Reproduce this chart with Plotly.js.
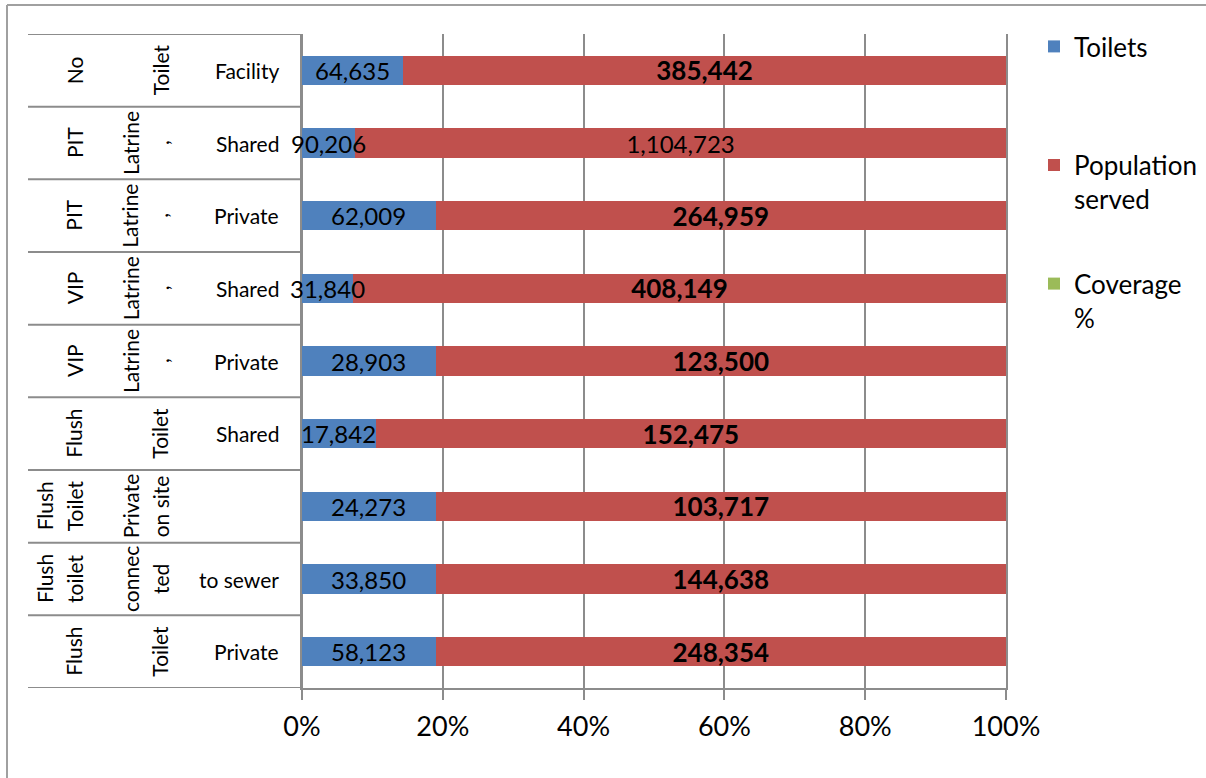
<!DOCTYPE html>
<html>
<head>
<meta charset="utf-8">
<script src="https://cdn.plot.ly/plotly-3.0.1.min.js"></script>
<style>
  html, body { margin: 0; padding: 0; background: #ffffff; }
  #chart { width: 1206px; height: 778px; }
</style>
</head>
<body>
<div id="chart"></div>
<script>
// Sanitation facilities: toilets vs. population served (100% stacked)
const categories = [
  "Flush Toilet Private",
  "Flush toilet connected to sewer",
  "Flush Toilet Private on site",
  "Flush Toilet Shared",
  "VIP Latrine, Private",
  "VIP Latrine, Shared",
  "PIT Latrine, Private",
  "PIT Latrine, Shared",
  "No Toilet Facility"
];

// Wrapped category label pieces, five label columns per row
const labelPieces = [
  ["", "Flush", "", "Toilet", "Private"],
  ["Flush", "toilet", "connec", "ted", "to sewer"],
  ["Flush", "Toilet", "Private", "on site", ""],
  ["", "Flush", "", "Toilet", "Shared"],
  ["", "VIP", "Latrine", ",", "Private"],
  ["", "VIP", "Latrine", ",", "Shared"],
  ["", "PIT", "Latrine", ",", "Private"],
  ["", "PIT", "Latrine", ",", "Shared"],
  ["", "No", "", "Toilet", "Facility"]
];

const toilets = [58123, 33850, 24273, 17842, 28903, 31840, 62009, 90206, 64635];
const populationServed = [248354, 144638, 103717, 152475, 123500, 408149, 264959, 1104723, 385442];
const coverage = [0, 0, 0, 0, 0, 0, 0, 0, 0];

const seriesNames = ["Toilets", "Population<br>served", "Coverage<br>%"];
const xTicks = [0, 20, 40, 60, 80, 100];

// ---- layout geometry (pixels) ----
const W = 1206, H = 778;
const plotL = 302, plotR = 1006, plotT = 34, plotB = 688;
const plotW = plotR - plotL, plotH = plotB - plotT;
const px2x = p => (p - plotL) / plotW;
const py2y = p => (plotB - p) / plotH;

const FONT = 'Lato, "Open Sans", sans-serif';
const GRID = '#8c8c8c';

const fmt = v => v.toLocaleString('en-US');
const bold = s => '<span style="font-weight:bold;font-size:26px">' + s + '</span>';

const popText = populationServed.map((v, i) =>
  categories[i] === "PIT Latrine, Shared" ? fmt(v) : bold(fmt(v)));

// centre of each Toilets segment on the percent scale
const totals = toilets.map((t, i) => t + populationServed[i] + coverage[i]);
const toiletsMid = toilets.map((t, i) => 50 * t / totals[i]);

const barCommon = {
  type: 'bar',
  orientation: 'h',
  y: categories,
  hoverinfo: 'none',
  textfont: { family: FONT, size: 24, color: '#000000' }
};

const traces = [
  Object.assign({}, barCommon, {
    name: seriesNames[0] + '<br>\u00a0', x: toilets,
    marker: { color: '#4F81BD' }, legendgroup: 'a'
  }),
  Object.assign({}, barCommon, {
    name: seriesNames[1], x: populationServed, text: popText,
    textposition: 'inside', insidetextanchor: 'middle', textangle: 0,
    constraintext: 'none',
    marker: { color: '#C0504D' }, legendgroup: 'b'
  }),
  Object.assign({}, barCommon, {
    name: seriesNames[2], x: coverage,
    marker: { color: '#9BBB59' }, legendgroup: 'c'
  })
];

const annotations = [];

// Toilets value labels, placed above the bars so wide labels stay readable
toilets.forEach((t, i) => {
  annotations.push({
    xref: 'x', yref: 'y', x: toiletsMid[i], y: categories[i],
    text: fmt(t), showarrow: false, xanchor: 'center', yanchor: 'middle',
    font: { family: FONT, size: 24, color: '#000000' }
  });
});

// Category label columns: [x pixel, rotated]
const columns = [[44, true], [74, true], [130, true], [160, true], [281, false]];

labelPieces.forEach((pieces, i) => {
  pieces.forEach((txt, c) => {
    if (!txt) return;
    const [cx, rot] = columns[c];
    annotations.push({
      xref: 'paper', yref: 'y',
      x: px2x(cx), y: categories[i],
      text: txt, showarrow: false,
      textangle: rot ? -90 : 0,
      xanchor: rot ? 'center' : 'right', yanchor: 'middle',
      font: { family: FONT, size: 21, color: '#000000' }
    });
  });
});

const shapes = [];
// row dividers across the label table
for (let k = 0; k <= categories.length; k++) {
  shapes.push({
    type: 'line', xref: 'paper', yref: 'y',
    x0: px2x(28), x1: 0, y0: k - 0.5, y1: k - 0.5,
    line: { color: GRID, width: 2 }
  });
}
// outer chart frame (left and top edges)
shapes.push({
  type: 'line', xref: 'paper', yref: 'paper',
  x0: px2x(7), x1: px2x(7), y0: py2y(5), y1: py2y(H + 5),
  line: { color: '#a0a0a0', width: 2 }
});
shapes.push({
  type: 'line', xref: 'paper', yref: 'paper',
  x0: px2x(7), x1: px2x(W + 5), y0: py2y(5), y1: py2y(5),
  line: { color: '#a0a0a0', width: 2 }
});

const layout = {
  width: W, height: H,
  margin: { l: plotL, r: W - plotR, t: plotT, b: H - plotB, pad: 0, autoexpand: false },
  paper_bgcolor: '#ffffff', plot_bgcolor: '#ffffff',
  barmode: 'stack', barnorm: 'percent', bargap: 0.6,
  showlegend: true,
  legend: {
    xref: 'container', yref: 'container',
    x: 1034 / W, y: 1 - 23 / H, xanchor: 'left', yanchor: 'top',
    font: { family: FONT, size: 26, color: '#000000' },
    valign: 'top', tracegroupgap: 48, traceorder: 'grouped',
    bgcolor: 'rgba(0,0,0,0)'
  },
  xaxis: {
    range: [0, 100], tickvals: xTicks, ticktext: xTicks.map(v => v + '%'),
    showgrid: true, gridcolor: GRID, gridwidth: 2,
    zeroline: true, zerolinecolor: GRID, zerolinewidth: 2,
    showline: true, linecolor: GRID, linewidth: 2,
    ticks: 'outside', ticklen: 10, tickwidth: 2, tickcolor: GRID,
    ticklabelstandoff: 4,
    tickfont: { family: FONT, size: 27, color: '#000000' },
    fixedrange: true
  },
  yaxis: {
    type: 'category', range: [-0.5, categories.length - 0.5],
    showticklabels: false, ticks: '', showgrid: false, zeroline: false,
    showline: true, linecolor: GRID, linewidth: 2, mirror: true,
    fixedrange: true
  },
  annotations: annotations,
  shapes: shapes
};

Plotly.newPlot('chart', traces, layout, { displayModeBar: false, staticPlot: true });
</script>
</body>
</html>
